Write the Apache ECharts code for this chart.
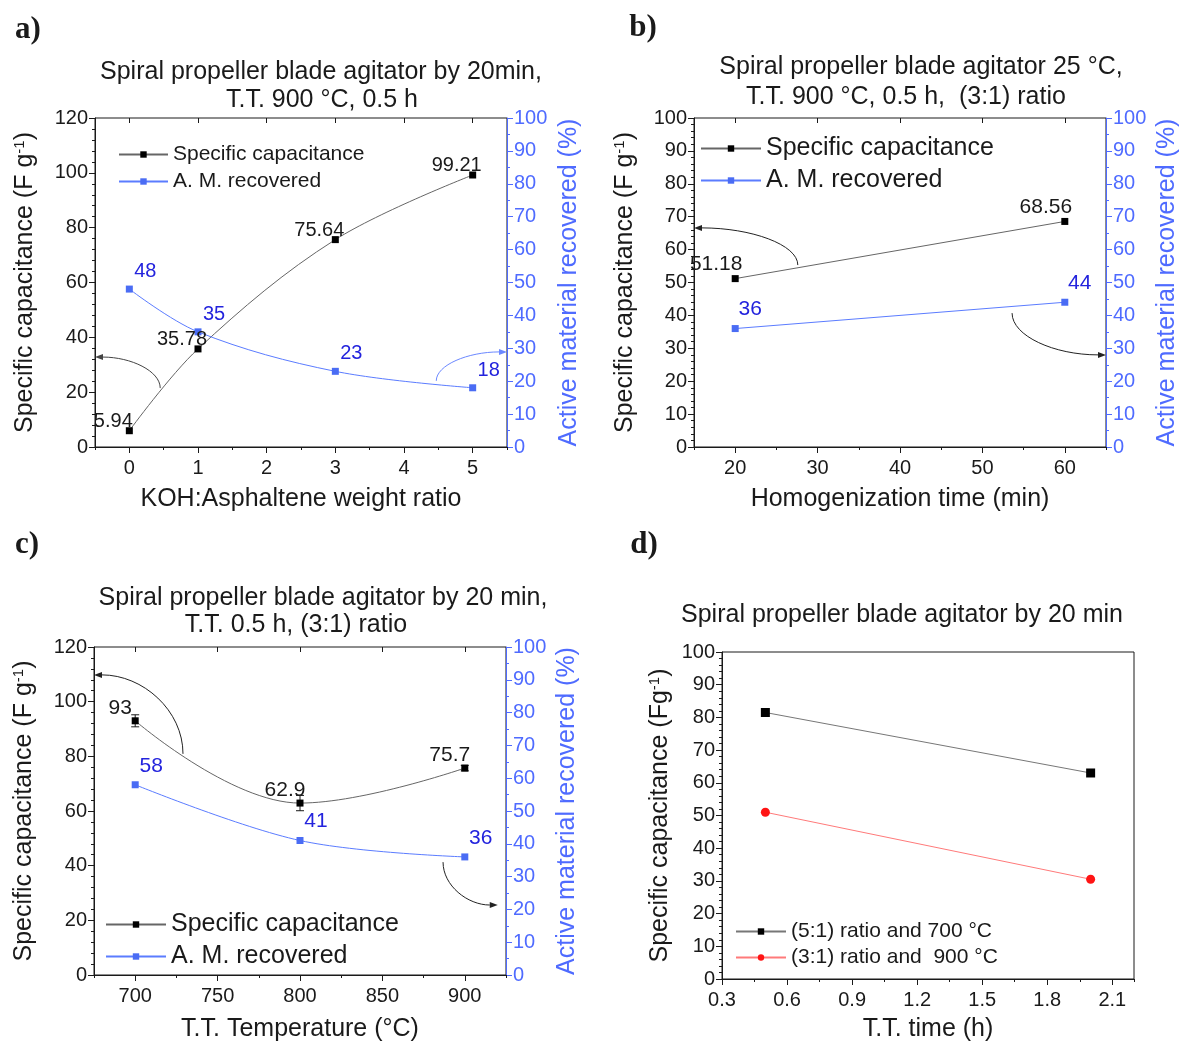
<!DOCTYPE html>
<html>
<head>
<meta charset="utf-8">
<title>capacitance panels</title>
<script src="https://cdn.jsdelivr.net/npm/echarts@6/dist/echarts.min.js"></script>
<style>
  html, body { margin: 0; padding: 0; background: #fff; }
  #main { width: 1181px; height: 1041px; }
</style>
</head>
<body>
<div id="main"></div>
<script>
// a) KOH:Asphaltene ratio
const ratio = [0, 1, 3, 5]
const ratioCap = [5.94, 35.78, 75.64, 99.21]
const ratioAM = [48, 35, 23, 18]
// b) homogenization time
const homTime = [20, 60]
const homCap = [51.18, 68.56]
const homAM = [36, 44]
// c) T.T. temperature
const temp = [700, 800, 900]
const tempCap = [93, 62.9, 75.7]
const tempCapErr = [2.2, 2.8, 1]
const tempAM = [58, 41, 36]
// d) T.T. time
const ttTime = [0.5, 2]
const ttCap51 = [81.5, 63]
const ttCap31 = [51, 30.5]

// tick labels
const ticksA = [0, 1, 2, 3, 4, 5]
const ticksB = [20, 30, 40, 50, 60]
const ticksC = [700, 750, 800, 850, 900]
const ticksD = [0.3, 0.6, 0.9, 1.2, 1.5, 1.8, 2.1]

// curved arrows pointing to the axes: [x from, y from, x to, y to]
const arrowsA = [[0.45, 21.5, -0.5, 32.8]]
const arrowsAblue = [[4.47, 20.1, 5.5, 28.9]]
const arrowsB = [[27.6, 55.3, 15, 66.6], [53.6, 40.7, 65, 28]]
const arrowsC = [[729, 80.9, 675, 109.8], [886.8, 41.3, 920, 25.6]]

const FONT = '"Liberation Sans", Arial, sans-serif'
const DARK = '#1a1a1a'
const BLUE = '#4f6bff'
const BLUE_TXT = '#2323dd'
const CAP = 'Specific capacitance'
const AM = 'A. M. recovered'

function zip (xs, ys) {
  return xs.map((x, i) => [x, ys[i]])
}

function mainX (grid, min, max, ticks, name, gap) {
  return {
    type: 'value', gridIndex: grid, position: 'bottom', min: min, max: max,
    name: name, nameLocation: 'middle', nameGap: gap,
    nameTextStyle: {fontSize: 25, color: DARK},
    axisLine: {show: true, onZero: false, lineStyle: {color: DARK}},
    axisTick: {show: true, length: 6, customValues: ticks, lineStyle: {color: DARK}},
    axisLabel: {customValues: ticks, fontSize: 20, color: DARK, margin: 11},
    splitLine: {show: false}
  }
}
function minorX (grid, min, max, step) {
  return {
    type: 'value', gridIndex: grid, position: 'bottom', min: min, max: max, interval: step,
    axisLine: {show: false, onZero: false},
    axisTick: {show: true, length: 3, lineStyle: {color: DARK}},
    axisLabel: {show: false}, splitLine: {show: false}
  }
}
function topX (grid, min, max, ticks) {
  return {
    type: 'value', gridIndex: grid, position: 'top', min: min, max: max,
    axisLine: {show: false, onZero: false},
    axisTick: {show: true, inside: true, length: 5, customValues: ticks, lineStyle: {color: DARK}},
    axisLabel: {show: false}, splitLine: {show: false}
  }
}
function yAx (grid, pos, max, interval, split, name, gap, color) {
  return {
    type: 'value', gridIndex: grid, position: pos, min: 0, max: max, interval: interval,
    name: name, nameLocation: 'middle', nameGap: gap, nameRotate: 90,
    nameTextStyle: {
      fontSize: 25, color: color,
      rich: {sup: {fontSize: 15, color: color, verticalAlign: 'top', padding: [0, 0, 11, 0]}}
    },
    axisLine: {show: true, onZero: false, lineStyle: {color: color}},
    axisTick: {show: true, length: 6, lineStyle: {color: color}},
    minorTick: {show: true, splitNumber: split, length: 3, lineStyle: {color: color}},
    axisLabel: {fontSize: 20, color: color, margin: 7},
    splitLine: {show: false}, minorSplitLine: {show: false}
  }
}

function capSeries (xi, yi, data, smooth, offset, fs) {
  return {
    name: CAP, type: 'line', xAxisIndex: xi, yAxisIndex: yi, data: data, smooth: smooth,
    symbol: 'rect', symbolSize: 7, itemStyle: {color: '#000'},
    lineStyle: {color: '#666', width: 1},
    label: {show: true, position: 'top', distance: 0, offset: offset, fontSize: fs, color: DARK,
      formatter: p => p.value[1]}
  }
}
function amSeries (xi, yi, data, smooth, offset, fs) {
  return {
    name: AM, type: 'line', xAxisIndex: xi, yAxisIndex: yi, data: data, smooth: smooth,
    symbol: 'rect', symbolSize: 7, itemStyle: {color: '#4a6cf4'},
    lineStyle: {color: '#5b7cff', width: 1},
    label: {show: true, position: 'top', distance: 0, offset: offset, fontSize: fs, color: BLUE_TXT,
      formatter: p => p.value[1]}
  }
}

function arrowSeries (xi, yi, data, color) {
  return {
    name: 'arrow', type: 'custom', xAxisIndex: xi, yAxisIndex: yi, data: data,
    silent: true, clip: false, z: 3,
    renderItem (params, api) {
      const p1 = api.coord([api.value(0), api.value(1)])
      const p2 = api.coord([api.value(2), api.value(3)])
      const k = 0.55
      const dir = Math.sign(p2[0] - p1[0])
      const base = [p2[0] - dir * 8, p2[1]]
      return {
        type: 'group',
        children: [{
          type: 'bezierCurve',
          shape: {
            x1: p1[0], y1: p1[1], x2: base[0], y2: base[1],
            cpx1: p1[0], cpy1: p1[1] + k * (p2[1] - p1[1]),
            cpx2: p2[0] + k * (p1[0] - p2[0]), cpy2: p2[1]
          },
          style: {stroke: color, fill: null, lineWidth: 1}
        }, {
          type: 'polygon',
          shape: {points: [p2, [base[0], p2[1] - 3], [base[0], p2[1] + 3]]},
          style: {fill: color}
        }]
      }
    }
  }
}

function errSeries (xi, yi, xs, ys, es) {
  return {
    name: 'err', type: 'custom', xAxisIndex: xi, yAxisIndex: yi,
    data: xs.map((x, i) => [x, ys[i], es[i]]), silent: true, z: 1,
    renderItem (params, api) {
      const x = api.value(0), y = api.value(1), e = api.value(2)
      const hi = api.coord([x, y + e])
      const lo = api.coord([x, y - e])
      const st = {stroke: DARK, lineWidth: 1}
      return {
        type: 'group',
        children: [
          {type: 'line', shape: {x1: hi[0], y1: hi[1], x2: lo[0], y2: lo[1]}, style: st},
          {type: 'line', shape: {x1: hi[0] - 4, y1: hi[1], x2: hi[0] + 4, y2: hi[1]}, style: st},
          {type: 'line', shape: {x1: lo[0] - 4, y1: lo[1], x2: lo[0] + 4, y2: lo[1]}, style: st}
        ]
      }
    }
  }
}

function txt (text, x, y, size, weight, family) {
  return {
    type: 'text', x: x, y: y, silent: true,
    style: {text: text, fill: DARK, align: 'center', verticalAlign: 'middle',
      font: (weight || 'normal') + ' ' + size + 'px ' + (family || FONT)}
  }
}

function legendBox (names, left, top, fs, w, gap) {
  return {
    data: names, left: left, top: top, orient: 'vertical', padding: 0,
    itemWidth: w, itemHeight: 8, itemGap: gap, selectedMode: false,
    textStyle: {fontSize: fs, color: DARK}
  }
}

const gridBox = {show: true, borderColor: DARK, borderWidth: 1, backgroundColor: 'transparent', outerBoundsMode: 'none'}
const capName = 'Specific capacitance (F g{sup|-1})'
const amName = 'Active material recovered (%)'
const SERIF = '"Liberation Serif", serif'

const option = {
  animation: false,
  backgroundColor: '#fff',
  textStyle: {fontFamily: FONT},
  grid: [
    Object.assign({left: 95, top: 118, width: 412, height: 329}, gridBox),
    Object.assign({left: 694, top: 118, width: 412, height: 329}, gridBox),
    Object.assign({left: 94, top: 647, width: 412, height: 328}, gridBox),
    Object.assign({left: 722, top: 652, width: 412, height: 327}, gridBox)
  ],
  xAxis: [
    mainX(0, -0.5, 5.5, ticksA, 'KOH:Asphaltene weight ratio', 40),
    minorX(0, -0.5, 5.5, 0.5),
    topX(0, -0.5, 5.5, ticksA),
    mainX(1, 15, 65, ticksB, 'Homogenization time (min)', 40),
    minorX(1, 15, 65, 5),
    topX(1, 15, 65, ticksB),
    mainX(2, 675, 925, ticksC, 'T.T. Temperature (°C)', 42),
    minorX(2, 675, 925, 25),
    topX(2, 675, 925, ticksC),
    mainX(3, 0.3, 2.2, ticksD, 'T.T. time (h)', 38),
    minorX(3, 0.3, 2.2, 0.15)
  ],
  yAxis: [
    yAx(0, 'left', 120, 20, 5, capName, 57, DARK),
    yAx(0, 'right', 100, 10, 2, amName, 50, BLUE),
    yAx(1, 'left', 100, 10, 5, capName, 56, DARK),
    yAx(1, 'right', 100, 10, 2, amName, 49, BLUE),
    yAx(2, 'left', 120, 20, 5, capName, 57, DARK),
    yAx(2, 'right', 100, 10, 2, amName, 49, BLUE),
    yAx(3, 'left', 100, 10, 5, 'Specific capacitance (Fg{sup|-1})', 49, DARK)
  ],
  legend: [
    legendBox([CAP, AM], 118, 144, 21, 49, 6),
    legendBox([CAP, AM], 700, 136, 25, 60, 7),
    legendBox([CAP, AM], 105, 912, 25, 60, 7),
    legendBox(['(5:1) ratio and 700 °C', '(3:1) ratio and  900 °C'], 735, 921, 21, 50, 5)
  ],
  graphic: [
    txt('a)', 28, 30, 31, 'bold', SERIF),
    txt('b)', 643, 28, 31, 'bold', SERIF),
    txt('c)', 27, 545, 31, 'bold', SERIF),
    txt('d)', 644, 545, 31, 'bold', SERIF),
    txt('Spiral propeller blade agitator by 20min,', 321, 72, 25),
    txt('T.T. 900 °C, 0.5 h', 322, 100, 25),
    txt('Spiral propeller blade agitator 25 °C,', 921, 67, 25),
    txt('T.T. 900 °C, 0.5 h,  (3:1) ratio', 906, 97, 25),
    txt('Spiral propeller blade agitator by 20 min,', 323, 598, 25),
    txt('T.T. 0.5 h, (3:1) ratio', 296, 625, 25),
    txt('Spiral propeller blade agitator by 20 min', 902, 615, 25)
  ],
  series: [
    capSeries(0, 0, zip(ratio, ratioCap), 0.35, [-16, 4], 20),
    amSeries(0, 1, zip(ratio, ratioAM), 0.35, [16, -4], 20),
    arrowSeries(0, 0, arrowsA, '#444'),
    arrowSeries(0, 1, arrowsAblue, '#6b88ff'),

    capSeries(3, 2, zip(homTime, homCap), false, [-19, 0], 21),
    amSeries(3, 3, zip(homTime, homAM), false, [15, -5], 21),
    arrowSeries(3, 2, arrowsB, '#222'),

    errSeries(6, 4, temp, tempCap, tempCapErr),
    capSeries(6, 4, zip(temp, tempCap), 0.4, [-15, 1], 21),
    amSeries(6, 5, zip(temp, tempAM), 0.35, [16, -5], 21),
    arrowSeries(6, 4, arrowsC, '#222'),

    {name: '(5:1) ratio and 700 °C', type: 'line', xAxisIndex: 9, yAxisIndex: 6, data: zip(ttTime, ttCap51),
      symbol: 'rect', symbolSize: 9, itemStyle: {color: '#000'}, lineStyle: {color: '#777', width: 1}},
    {name: '(3:1) ratio and  900 °C', type: 'line', xAxisIndex: 9, yAxisIndex: 6, data: zip(ttTime, ttCap31),
      symbol: 'circle', symbolSize: 9, itemStyle: {color: '#ff1414'}, lineStyle: {color: '#ff7a7a', width: 1}}
  ]
}

const chart = echarts.init(document.getElementById('main'))
chart.setOption(option)
</script>
</body>
</html>
